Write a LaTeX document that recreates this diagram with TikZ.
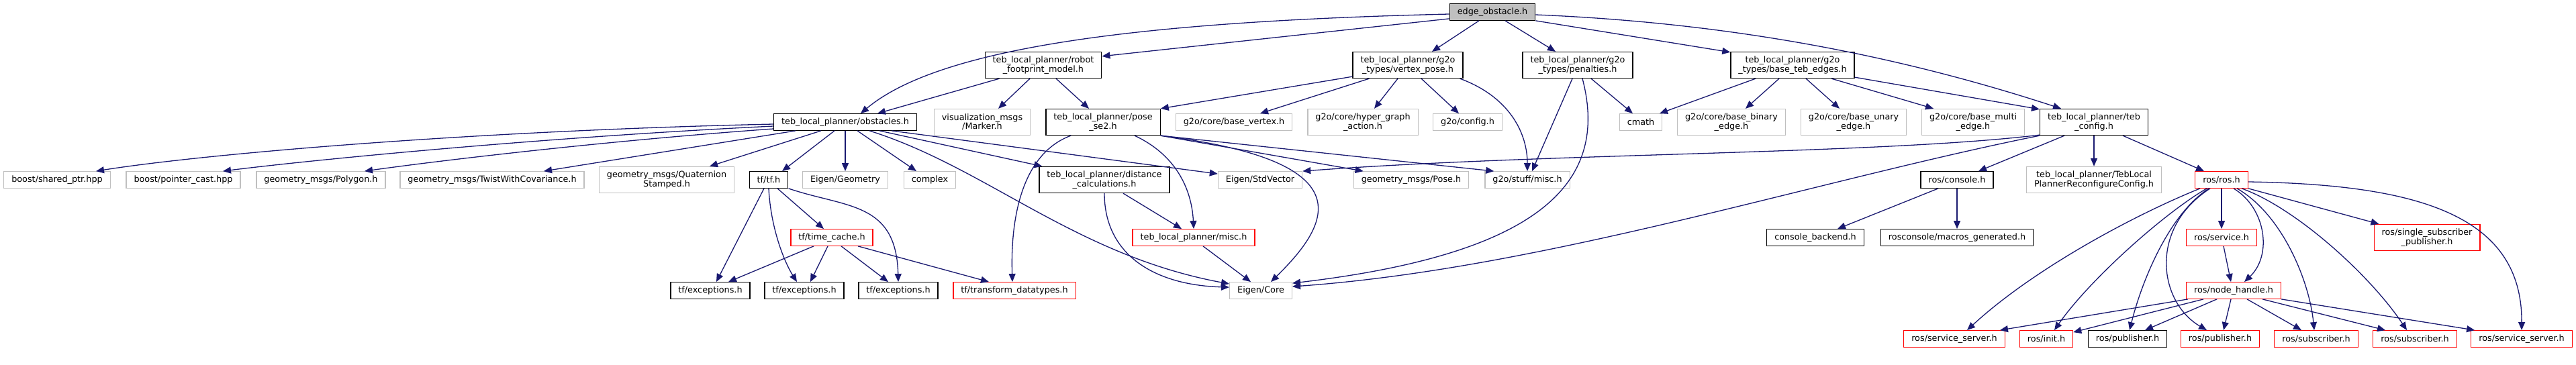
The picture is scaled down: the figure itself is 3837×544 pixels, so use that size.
\documentclass[tikz,border=0pt]{standalone}
\usepackage{fontspec}
\setmainfont{DejaVu Sans}
\usetikzlibrary{arrows.meta,calc}
\definecolor{edgeblue}{HTML}{191970}
\definecolor{boxgray}{HTML}{BFBFBF}
\tikzstyle{file} = [rectangle, draw, fill=white, line width=0.65pt, inner xsep=5.75pt, inner ysep=0pt, minimum height=12.25pt, align=center, font=\fontsize{6.4}{6.7}\selectfont]
\tikzstyle{root} = [file, draw=black, fill=boxgray]
\tikzstyle{hdr} = [file, draw=black]
\tikzstyle{ext} = [file, draw=boxgray]
\tikzstyle{trunc} = [file, draw=red]
\tikzstyle{dbl} = [minimum height=19.5pt]
\tikzstyle{arrow} = [draw=edgeblue, line width=0.65pt, -{Triangle[length=6pt,width=5pt]}]

\begin{document}
\begin{tikzpicture}[x=0.5pt, y=-0.5pt]
\useasboundingbox (0,0) rectangle (3837,544);
% row 0
\node (eo) [root] at (2223,18) {edge\_obstacle.h};
% row 1
\node (rfm) [hdr, dbl] at (1554,97) {teb\_local\_planner/robot\\\_footprint\_model.h};
\node (vp) [hdr, dbl] at (2097,97) {teb\_local\_planner/g2o\\\_types/vertex\_pose.h};
\node (pen) [hdr, dbl] at (2350,97) {teb\_local\_planner/g2o\\\_types/penalties.h};
\node (bte) [hdr, dbl] at (2670,97) {teb\_local\_planner/g2o\\\_types/base\_teb\_edges.h};
% row 2
\node (obs) [hdr] at (1259,182) {teb\_local\_planner/obstacles.h};
\node (mrk) [ext, dbl] at (1463,182) {visualization\_msgs\\/Marker.h};
\node (pse) [hdr, dbl] at (1643,182) {teb\_local\_planner/pose\\\_se2.h};
\node (bvx) [ext] at (1838,182) {g2o/core/base\_vertex.h};
\node (hga) [ext, dbl] at (2030,182) {g2o/core/hyper\_graph\\\_action.h};
\node (gcf) [ext] at (2186,182) {g2o/config.h};
\node (cmath) [ext] at (2444,182) {cmath};
\node (bbe) [ext, dbl] at (2579,182) {g2o/core/base\_binary\\\_edge.h};
\node (bue) [ext, dbl] at (2761,182) {g2o/core/base\_unary\\\_edge.h};
\node (bme) [ext, dbl] at (2939,182) {g2o/core/base\_multi\\\_edge.h};
\node (cfg) [hdr, dbl] at (3119,182) {teb\_local\_planner/teb\\\_config.h};
% row 3
\node (sptr) [ext] at (85,268) {boost/shared\_ptr.hpp};
\node (pcast) [ext] at (273,268) {boost/pointer\_cast.hpp};
\node (poly) [ext] at (478,268) {geometry\_msgs/Polygon.h};
\node (twist) [ext] at (733,268) {geometry\_msgs/TwistWithCovariance.h};
\node (quat) [ext, dbl] at (993,268) {geometry\_msgs/Quaternion\\Stamped.h};
\node (tf) [hdr] at (1145,268) {tf/tf.h};
\node (egeo) [ext] at (1259,268) {Eigen/Geometry};
\node (cplx) [ext] at (1385,268) {complex};
\node (dist) [hdr, dbl] at (1645,268) {teb\_local\_planner/distance\\\_calculations.h};
\node (estd) [ext] at (1877,268) {Eigen/StdVector};
\node (pose) [ext] at (2102,268) {geometry\_msgs/Pose.h};
\node (smisc) [ext] at (2275,268) {g2o/stuff/misc.h};
\node (cons) [hdr] at (2915,268) {ros/console.h};
\node (rcfg) [ext, dbl] at (3119,268) {teb\_local\_planner/TebLocal\\PlannerReconfigureConfig.h};
\node (ros) [trunc] at (3309,268) {ros/ros.h};
% row 4
\node (tcache) [trunc] at (1239,354) {tf/time\_cache.h};
\node (misc) [trunc] at (1778,354) {teb\_local\_planner/misc.h};
\node (cback) [hdr] at (2704,354) {console\_backend.h};
\node (macro) [hdr] at (2915,354) {rosconsole/macros\_generated.h};
\node (srv) [trunc] at (3309,354) {ros/service.h};
\node (ssp) [trunc, dbl] at (3615,354) {ros/single\_subscriber\\\_publisher.h};
% row 5
\node (exc1) [hdr] at (1058,433) {tf/exceptions.h};
\node (exc2) [hdr] at (1198,433) {tf/exceptions.h};
\node (exc3) [hdr] at (1338,433) {tf/exceptions.h};
\node (tdt) [trunc] at (1511,433) {tf/transform\_datatypes.h};
\node (ecore) [ext] at (1878,433) {Eigen/Core};
\node (nh) [trunc] at (3327,433) {ros/node\_handle.h};
% row 6
\node (ss1) [trunc] at (2911,505) {ros/service\_server.h};
\node (init) [trunc] at (3048,505) {ros/init.h};
\node (pub1) [hdr] at (3169,505) {ros/publisher.h};
\node (pub2) [trunc] at (3307,505) {ros/publisher.h};
\node (sub1) [trunc] at (3450,505) {ros/subscriber.h};
\node (sub2) [trunc] at (3597,505) {ros/subscriber.h};
\node (ss2) [trunc] at (3756,505) {ros/service\_server.h};

% edge_obstacle.h
\draw [arrow] ($(eo.west)+(0,3)$) .. controls (1700,32) and (1400,70) .. ($(obs.north)+(23,0)$);
\draw [arrow] ($(eo.south west)+(0,-3)$) -- ($(rfm.north east)+(0,7)$);
\draw [arrow] ($(eo.south)+(-20,0)$) -- ($(vp.north)+(36,0)$);
\draw [arrow] ($(eo.south)+(19,0)$) -- ($(pen.north)+(-33,0)$);
\draw [arrow] (eo.south east) -- ($(bte.north west)+(0,1)$);
\draw [arrow] ($(eo.east)+(0,4)$) .. controls (2600,35) and (2850,90) .. ($(cfg.north)+(-49,0)$);
% robot_footprint_model.h
\draw [arrow] ($(rfm.south west)+(22,0)$) -- ($(obs.north)+(48,0)$);
\draw [arrow] ($(rfm.south)+(-20,0)$) -- ($(mrk.north)+(24,0)$);
\draw [arrow] ($(rfm.south)+(19,0)$) -- ($(pse.north)+(-21,0)$);
% vertex_pose.h
\draw [arrow] ($(vp.south west)+(0,-3)$) -- (pse.north east);
\draw [arrow] ($(vp.south west)+(25,0)$) -- ($(bvx.north)+(39,0)$);
\draw [arrow] ($(vp.south)+(-15,0)$) -- ($(hga.north)+(17,0)$);
\draw [arrow] ($(vp.south)+(20,0)$) -- ($(gcf.north)+(-13,0)$);
\draw [arrow] ($(vp.south east)+(-5,0)$) .. controls (2250,145) and (2275,200) .. (smisc.north);
% penalties.h
\draw [arrow] ($(pen.south)+(-8,0)$) -- ($(smisc.north)+(7,0)$);
\draw [arrow] ($(pen.south)+(7,0)$) .. controls (2400,280) and (2280,380) .. ($(ecore.north east)+(0,2)$);
\draw [arrow] ($(pen.south)+(20,0)$) -- ($(cmath.north)+(-12,0)$);
% base_teb_edges.h
\draw [arrow] ($(bte.south)+(-55,0)$) -- ($(cmath.north)+(28,0)$);
\draw [arrow] ($(bte.south)+(-20,0)$) -- ($(bbe.north)+(21,0)$);
\draw [arrow] ($(bte.south)+(20,0)$) -- ($(bue.north)+(-21,0)$);
\draw [arrow] ($(bte.south)+(58,0)$) -- ($(bme.north)+(-59,0)$);
\draw [arrow] ($(bte.south east)+(0,-2)$) -- ($(cfg.north west)+(0,1)$);
% teb_config.h
\draw [arrow] ($(cfg.south west)+(0,-1)$) .. controls (2800,230) and (2300,228) .. (estd.north east);
\draw [arrow] (cfg.south west) .. controls (2700,270) and (2300,400) .. ($(ecore.north east)+(0,7)$);
\draw [arrow] ($(cfg.south)+(-44,0)$) -- ($(cons.north)+(32,0)$);
\draw [arrow] (cfg.south) -- (rcfg.north);
\draw [arrow] ($(cfg.south)+(43,0)$) -- ($(ros.north)+(-26,0)$);
% obstacles.h
\draw [arrow] ($(obs.west)+(0,3)$) .. controls (700,195) and (300,230) .. ($(sptr.north)+(58,0)$);
\draw [arrow] ($(obs.west)+(0,6)$) .. controls (800,205) and (450,240) .. ($(pcast.north)+(59,0)$);
\draw [arrow] ($(obs.west)+(0,10)$) .. controls (900,210) and (650,240) .. ($(poly.north)+(65,0)$);
\draw [arrow] ($(obs.south west)+(33,0)$) -- ($(twist.north)+(77,0)$);
\draw [arrow] ($(obs.south)+(-36,0)$) -- ($(quat.north)+(64,0)$);
\draw [arrow] ($(obs.south)+(-16,0)$) -- ($(tf.north)+(20,0)$);
\draw [arrow] (obs.south) -- (egeo.north);
\draw [arrow] ($(obs.south)+(18,0)$) -- ($(cplx.north)+(-20,0)$);
\draw [arrow] ($(obs.south)+(51,0)$) -- ($(dist.north west)+(5,0)$);
\draw [arrow] ($(obs.south)+(69,0)$) -- ($(estd.north west)+(0,4)$);
\draw [arrow] ($(obs.south)+(36,0)$) .. controls (1470,250) and (1600,380) .. ($(ecore.north west)+(0,3)$);
% tf/tf.h
\draw [arrow] ($(tf.south)+(-7,0)$) -- ($(exc1.north)+(9,0)$);
\draw [arrow] (tf.south) .. controls (1148,340) and (1168,390) .. ($(exc2.north)+(-11,0)$);
\draw [arrow] ($(tf.south)+(13,0)$) -- ($(tcache.north)+(-12,0)$);
\draw [arrow] (tf.south east) .. controls (1260,310) and (1335,300) .. (exc3.north);
% tf/time_cache.h
\draw [arrow] ($(tcache.south)+(-27,0)$) -- ($(exc1.north)+(27,0)$);
\draw [arrow] ($(tcache.south)+(-6,0)$) -- ($(exc2.north)+(9,0)$);
\draw [arrow] ($(tcache.south)+(14,0)$) -- ($(exc3.north)+(-15,0)$);
\draw [arrow] ($(tcache.south)+(39,0)$) -- ($(tdt.north)+(-38,0)$);
% pose_se2.h
\draw [arrow] ($(pse.south)+(-48,0)$) .. controls (1520,230) and (1505,330) .. ($(tdt.north)+(-3,0)$);
\draw [arrow] ($(pse.south)+(47,0)$) .. controls (1750,230) and (1775,280) .. (misc.north);
\draw [arrow] (pse.south east) -- ($(pose.north west)+(15,0)$);
\draw [arrow] (pse.south east) -- ($(smisc.north west)+(14,0)$);
\draw [arrow] (pse.south east) .. controls (2030,240) and (1985,330) .. ($(ecore.north)+(15,0)$);
% distance_calculations.h
\draw [arrow] ($(dist.south)+(28,0)$) -- ($(misc.north)+(-18,0)$);
\draw [arrow] (dist.south) .. controls (1645,380) and (1720,425) .. ($(ecore.north west)+(0,8)$);
% misc.h
\draw [arrow] ($(misc.south)+(14,0)$) -- ($(ecore.north)+(-15,0)$);
% ros/console.h
\draw [arrow] ($(cons.south)+(-28,0)$) -- ($(cback.north)+(33,0)$);
\draw [arrow] (cons.south) -- (macro.north);
% ros/ros.h
\draw [arrow] ($(ros.south)+(-32,0)$) .. controls (3180,320) and (3030,400) .. ($(ss1.north)+(19,0)$);
\draw [arrow] ($(ros.south)+(-22,0)$) .. controls (3220,320) and (3110,420) .. ($(init.north)+(12,0)$);
\draw [arrow] ($(ros.south)+(-19,0)$) .. controls (3230,320) and (3190,420) .. ($(pub1.north)+(3,0)$);
\draw [arrow] ($(ros.south)+(-17,0)$) .. controls (3200,340) and (3215,450) .. ($(pub2.north)+(-20,0)$);
\draw [arrow] (ros.south) -- (srv.north);
\draw [arrow] ($(ros.south)+(18,0)$) .. controls (3375,310) and (3385,380) .. ($(nh.north)+(16,0)$);
\draw [arrow] ($(ros.south)+(23,0)$) .. controls (3400,320) and (3440,420) .. ($(sub1.north)+(-3,0)$);
\draw [arrow] ($(ros.south)+(30,0)$) .. controls (3420,310) and (3530,410) .. ($(sub2.north)+(-12,0)$);
\draw [arrow] (ros.south east) -- ($(ssp.north west)+(8,0)$);
\draw [arrow] ($(ros.east)+(0,3)$) .. controls (3600,275) and (3757,320) .. (ss2.north);
% ros/service.h
\draw [arrow] ($(srv.south)+(3,0)$) -- ($(nh.north)+(-4,0)$);
% ros/node_handle.h
\draw [arrow] ($(nh.south west)+(3,0)$) -- ($(ss1.north east)+(-8,0)$);
\draw [arrow] ($(nh.south)+(-45,0)$) -- ($(init.north east)+(0,3)$);
\draw [arrow] ($(nh.south)+(-25,0)$) -- ($(pub1.north)+(26,0)$);
\draw [arrow] ($(nh.south)+(-4,0)$) -- ($(pub2.north)+(5,0)$);
\draw [arrow] ($(nh.south)+(20,0)$) -- ($(sub1.north)+(-22,0)$);
\draw [arrow] ($(nh.south)+(43,0)$) -- ($(sub2.north)+(-44,0)$);
\draw [arrow] (nh.south east) -- ($(ss2.north west)+(6,0)$);
\end{tikzpicture}
\end{document}
